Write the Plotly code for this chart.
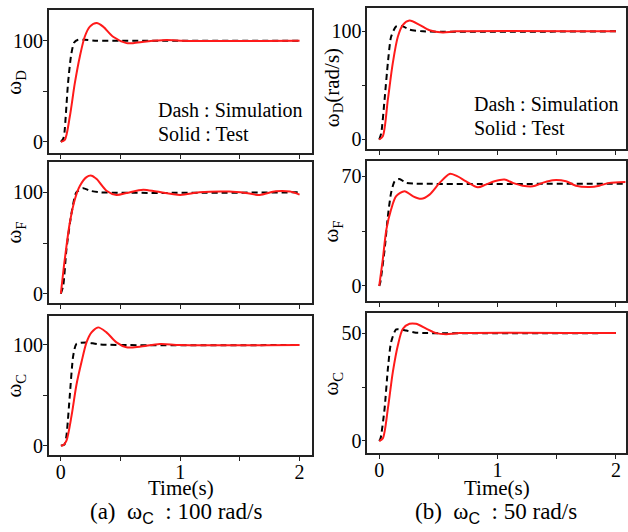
import plotly.graph_objects as go

W, H = 628, 532
FONT = "Liberation Serif"

# ---------------- data ----------------
# (a) wC = 100 rad/s
T_DA_SIM = [0, 0.02, 0.03, 0.06, 0.085, 0.11, 0.145, 0.2, 0.3, 0.5, 2.0]
V_DA_SIM = [0, 3, 9, 58, 85, 98, 101, 101, 100, 100, 100]
T_DA_TEST = [0, 0.033, 0.075, 0.117, 0.16, 0.2, 0.243, 0.3, 0.354, 0.438, 0.55, 0.605, 0.717, 0.884, 1.0, 2.0]
V_DA_TEST = [0, 2, 25, 58, 85, 104, 114, 117.5, 114, 104, 97.7, 97.6, 99.3, 100.8, 100, 100]

T_FA_SIM = [0, 0.02, 0.047, 0.09, 0.13, 0.187, 0.243, 0.33, 2.0]
V_FA_SIM = [0, 8, 44, 80, 100, 104, 101.6, 100, 100]
T_FA_TEST = [0, 0.033, 0.075, 0.117, 0.16, 0.215, 0.257, 0.3, 0.382, 0.466, 0.55, 0.69, 0.8, 1.0,
             1.16, 1.41, 1.55, 1.665, 1.8, 1.92, 2.0]
V_FA_TEST = [0, 34, 70, 93, 106.5, 115, 116.4, 113, 101.6, 97.4, 99.3, 102.6, 100.7, 97.4,
             100, 100.7, 99.3, 97.4, 101, 100.7, 97.7]

T_CA_SIM = [0, 0.03, 0.047, 0.075, 0.103, 0.13, 0.215, 0.33, 2.0]
V_CA_SIM = [0, 1, 10, 50, 89, 101, 102.6, 100.5, 100]
T_CA_TEST = [0, 0.02, 0.047, 0.09, 0.13, 0.173, 0.215, 0.257, 0.312, 0.382, 0.466, 0.55, 0.66, 0.83, 1.0, 2.0]
V_CA_TEST = [0, 0.5, 5, 30, 60, 83, 102.6, 112.5, 117.5, 112.5, 102.6, 97.7, 98.3, 101, 100, 100]

# (b) wC = 50 rad/s
T_DB_SIM = [0, 0.017, 0.045, 0.073, 0.1, 0.143, 0.2, 0.256, 0.37, 2.0]
V_DB_SIM = [0, 6, 37, 71, 95, 104.6, 104.6, 101.5, 100, 100]
T_DB_TEST = [0, 0.03, 0.073, 0.115, 0.157, 0.2, 0.256, 0.34, 0.425, 0.537, 0.65, 2.0]
V_DB_TEST = [0, 3, 37, 71, 95, 106, 110, 106, 101, 99, 100, 100]

T_FB_SIM = [0, 0.008, 0.045, 0.073, 0.1, 0.13, 0.17, 0.228, 0.31, 2.1]
V_FB_SIM = [0, 2, 23, 44.5, 59.4, 66.8, 68.3, 65.8, 65.3, 65.3]
T_FB_TEST = [0, 0.03, 0.06, 0.1, 0.143, 0.214, 0.284, 0.354, 0.425, 0.51, 0.594, 0.65, 0.734, 0.833,
             0.9, 0.973, 1.058, 1.128, 1.212, 1.297, 1.38, 1.466, 1.578, 1.662, 1.775, 1.86, 1.943, 2.08]
V_FB_TEST = [0, 17, 36, 48.8, 57.3, 60.5, 57.3, 55.6, 58.3, 65.8, 71.5, 70.4, 66.8, 63,
             64.7, 66.8, 67.9, 65.8, 64, 63.6, 65.8, 67.5, 66.8, 64, 63.2, 64, 65.8, 66.4]

T_CB_SIM = [0, 0.011, 0.045, 0.073, 0.1, 0.143, 0.228, 0.31, 0.4, 2.0]
V_CB_SIM = [0, 1.2, 15, 33.5, 45.8, 51.7, 51.2, 50.2, 50, 50]
T_CB_TEST = [0, 0.03, 0.073, 0.115, 0.157, 0.2, 0.256, 0.31, 0.4, 0.48, 0.565, 0.68, 2.0]
V_CB_TEST = [0, 1.2, 15, 32, 44.3, 52, 54.3, 54.3, 52, 50, 49.5, 50, 50]

X_TICKS = [0, 0.5, 1, 1.5, 2]
X_TICKTEXT = ["0", "", "1", "", "2"]
Y_TICKS_100 = [0, 50, 100]
Y_TICKTEXT_100 = ["0", "", "100"]
Y_TICKS_70 = [0, 35, 70]
Y_TICKTEXT_70 = ["0", "", "70"]
Y_TICKS_50 = [0, 25, 50]
Y_TICKTEXT_50 = ["0", "", "50"]

# ---------------- panels ----------------
panels = [
    (T_DA_SIM, V_DA_SIM, T_DA_TEST, V_DA_TEST, [-0.1, 2.1], [-11.5, 130.5], Y_TICKS_100, Y_TICKTEXT_100, (49, 10, 312, 154), "ω<sub>D</sub>", False),
    (T_FA_SIM, V_FA_SIM, T_FA_TEST, V_FA_TEST, [-0.1, 2.1], [-9, 129.5], Y_TICKS_100, Y_TICKTEXT_100, (49, 163, 312, 304), "ω<sub>F</sub>", False),
    (T_CA_SIM, V_CA_SIM, T_CA_TEST, V_CA_TEST, [-0.1, 2.1], [-9.6, 129], Y_TICKS_100, Y_TICKTEXT_100, (49, 317, 312, 457), "ω<sub>C</sub>", True),
    (T_DB_SIM, V_DB_SIM, T_DB_TEST, V_DB_TEST, [-0.1, 2.085], [-9.2, 121.6], Y_TICKS_100, Y_TICKTEXT_100, (368, 8, 627, 150), "ω<sub>D</sub>(rad/s)", False),
    (T_FB_SIM, V_FB_SIM, T_FB_TEST, V_FB_TEST, [-0.1, 2.085], [-9.5, 79.5], Y_TICKS_70, Y_TICKTEXT_70, (368, 162, 627, 302), "ω<sub>F</sub>", False),
    (T_CB_SIM, V_CB_SIM, T_CB_TEST, V_CB_TEST, [-0.1, 2.085], [-5.7, 59.4], Y_TICKS_50, Y_TICKTEXT_50, (368, 314, 627, 455), "ω<sub>C</sub>", True),
]

def px_x(p):
    return p / W

def px_y(p):
    return 1 - p / H

fig = go.Figure()
layout = {}
annotations = []
n = len(panels)
for i, (ts, vs, tt, vt, xr, yr, ytv, ytt, box, ytitle, bottom) in enumerate(panels):
    k = i + 1
    xa = "x" if k == 1 else f"x{k}"
    ya = "y" if k == 1 else f"y{k}"
    fig.add_trace(go.Scatter(x=ts, y=vs, xaxis=xa, yaxis=ya, mode="lines",
                             line=dict(color="black", width=2, dash="6px,4px", shape="spline", smoothing=0.6),
                             showlegend=False, hoverinfo="skip"))
    fig.add_trace(go.Scatter(x=tt, y=vt, xaxis=xa, yaxis=ya, mode="lines",
                             line=dict(color="#ff1a1a", width=2, shape="spline", smoothing=0.8),
                             showlegend=False, hoverinfo="skip"))
    l, t, r, b = box
    xkey = "xaxis" if k == 1 else f"xaxis{k}"
    ykey = "yaxis" if k == 1 else f"yaxis{k}"
    layout[xkey] = dict(domain=[px_x(l), px_x(r)], anchor=ya, range=xr,
                        showgrid=False, zeroline=False, showline=True, mirror=True,
                        linecolor="#222", linewidth=1.6, ticks="outside", ticklen=4,
                        tickwidth=1.3, tickcolor="#222",
                        tickvals=X_TICKS, ticktext=X_TICKTEXT if bottom else [""] * 5,
                        showticklabels=bottom, ticklabelstandoff=-6,
                        tickfont=dict(family=FONT, size=20, color="black"))
    layout[ykey] = dict(domain=[px_y(b), px_y(t)], anchor=xa, range=yr,
                        showgrid=False, zeroline=False, showline=True, mirror=True,
                        linecolor="#222", linewidth=1.6, ticks="outside", ticklen=4,
                        tickwidth=1.3, tickcolor="#222",
                        tickvals=ytv, ticktext=ytt, ticklabelstandoff=-4,
                        tickfont=dict(family=FONT, size=20, color="black"))
    rk = n + k
    rkey = f"yaxis{rk}"
    layout[rkey] = dict(domain=[px_y(b), px_y(t)], anchor=xa, overlaying=ya, side="right",
                        range=yr, showgrid=False, zeroline=False, showline=False,
                        ticks="inside", ticklen=4, tickwidth=1.3, tickcolor="#222",
                        tickvals=ytv, showticklabels=False)
    tx = 15 if l < 100 else 333
    ty = (t + b) / 2
    if "rad" in ytitle:
        ty += 9
    annotations.append(dict(text=ytitle, x=px_x(tx), y=px_y(ty), xref="paper", yref="paper",
                            textangle=-90, showarrow=False, xanchor="center", yanchor="middle",
                            font=dict(family=FONT, size=21, color="black")))

for (lx, y1, y2) in [(156, 110, 135), (473, 104, 128)]:
    annotations.append(dict(text="Dash : Simulation", x=px_x(lx), y=px_y(y1), xref="paper", yref="paper",
                            showarrow=False, xanchor="left", yanchor="middle",
                            font=dict(family=FONT, size=20, color="black")))
    annotations.append(dict(text="Solid : Test", x=px_x(lx), y=px_y(y2), xref="paper", yref="paper",
                            showarrow=False, xanchor="left", yanchor="middle",
                            font=dict(family=FONT, size=20, color="black")))

for cx in (181, 498):
    annotations.append(dict(text="Time(s)", x=px_x(cx), y=px_y(490), xref="paper", yref="paper",
                            showarrow=False, xanchor="center", yanchor="middle",
                            font=dict(family=FONT, size=21, color="black")))

SUB_C = "<sub><span style='font-family:Liberation Sans'>C</span></sub>"
for cx, cap in ((176, "(a)&nbsp;&nbsp;ω" + SUB_C + "&nbsp;&nbsp;: 100 rad/s"),
                (497, "(b)&nbsp;&nbsp;ω" + SUB_C + "&nbsp;&nbsp;: 50 rad/s")):
    annotations.append(dict(text=cap, x=px_x(cx), y=px_y(515), xref="paper", yref="paper",
                            showarrow=False, xanchor="center", yanchor="middle",
                            font=dict(family=FONT, size=23, color="black")))

fig.update_layout(width=W, height=H, margin=dict(l=0, r=0, t=0, b=0),
                  paper_bgcolor="white", plot_bgcolor="white",
                  annotations=annotations, **layout)

fig.write_html("out.html", config={"displayModeBar": False},
               post_script="document.body.style.margin='0';")
